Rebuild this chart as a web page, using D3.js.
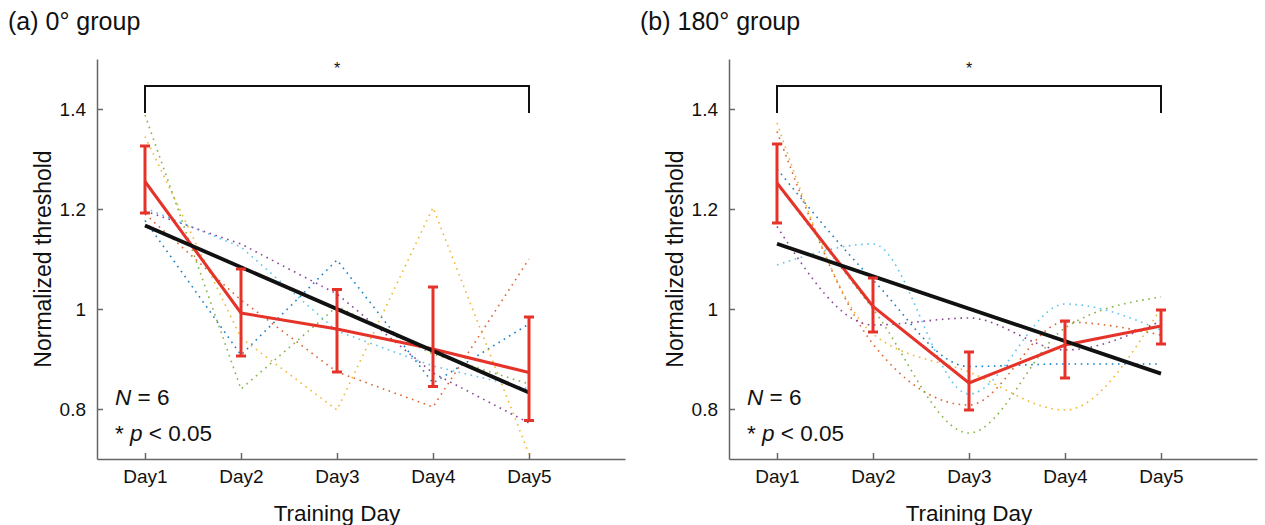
<!DOCTYPE html>
<meta charset="utf-8">
<style>
html, body {
  margin: 0;
  background: #fff;
}

.chart text {
  font-family: "Liberation Sans", Arial, Helvetica, sans-serif;
  fill: #111;
}

.chart .axis path,
.chart .axis line {
  stroke: #666;
  stroke-width: 1.5;
}

.chart .axis text {
  font-size: 19px;
}

.chart .subject {
  fill: none;
  stroke-width: 1.6;
  stroke-dasharray: 1.6 4.6;
  opacity: 0.9;
}

.chart .mean {
  fill: none;
  stroke: #e5332a;
  stroke-width: 3;
}

.chart .errbar {
  stroke: #e5332a;
  stroke-width: 3;
}

.chart .fit {
  stroke: #111;
  stroke-width: 3.8;
}

.chart .bracket {
  fill: none;
  stroke: #111;
  stroke-width: 2;
}
</style>
<body>
<svg class="chart" width="1265" height="525"></svg>

<script src="https://d3js.org/d3.v7.min.js"></script>
<script type="text/javascript">
"use strict";

// categories and ticks
var days = ["Day1", "Day2", "Day3", "Day4", "Day5"];
var yTicks = [0.8, 1, 1.2, 1.4];

// (a) 0° group, one dotted series per subject
var aBlue   = [1.177, 0.908, 1.098, 0.852, 0.970];
var aRed    = [1.190, 1.018, 0.874, 0.804, 1.100];
var aYellow = [1.345, 0.942, 0.798, 1.203, 0.710];
var aPurple = [1.196, 1.130, 1.030, 0.872, 0.772];
var aGreen  = [1.388, 0.840, 1.005, 0.910, 0.850];
var aCyan   = [1.202, 1.124, 0.956, 0.886, 0.840];
var aMean   = [1.255, 0.992, 0.960, 0.920, 0.873];
var aUpper  = [1.326, 1.080, 1.039, 1.044, 0.984];
var aLower  = [1.192, 0.906, 0.874, 0.845, 0.777];

// (b) 180° group
var bBlue   = [1.280, 1.058, 0.885, 0.890, 0.890];
var bRed    = [1.355, 0.930, 0.808, 0.974, 0.948];
var bYellow = [1.372, 0.950, 0.874, 0.798, 1.002];
var bPurple = [1.165, 0.968, 0.982, 0.918, 0.976];
var bGreen  = [1.250, 1.000, 0.752, 0.962, 1.024];
var bCyan   = [1.088, 1.130, 0.830, 1.010, 0.958];
var bMean   = [1.252, 1.005, 0.852, 0.928, 0.966];
var bUpper  = [1.330, 1.062, 0.914, 0.976, 0.998];
var bLower  = [1.172, 0.954, 0.798, 0.862, 0.930];

var subjectColors = ["#0072BD", "#D95319", "#EDB120", "#7E2F8E", "#77AC30", "#4DBEEE"];

var svg = d3.select(".chart");

var panels = [
  {
    title: "(a) 0\u00b0 group",
    left: 97,
    subjects: [aBlue, aRed, aYellow, aPurple, aGreen, aCyan],
    mean: aMean, upper: aUpper, lower: aLower,
    curve: d3.curveLinear
  },
  {
    title: "(b) 180\u00b0 group",
    left: 729,
    subjects: [bBlue, bRed, bYellow, bPurple, bGreen, bCyan],
    mean: bMean, upper: bUpper, lower: bLower,
    curve: d3.curveMonotoneX
  }
];

var plotWidth = 528,
  plotTop = 59,
  plotBottom = 459;

panels.forEach(drawPanel);

function linearFit(values) {
  var n = values.length,
    xs = d3.range(1, n + 1),
    mx = d3.mean(xs),
    my = d3.mean(values),
    sxy = d3.sum(xs, function(x, i) { return (x - mx) * (values[i] - my); }),
    sxx = d3.sum(xs, function(x) { return (x - mx) * (x - mx); }),
    slope = sxy / sxx;
  return function(x) { return my + slope * (x - mx); };
}

function drawPanel(p) {
  var x = d3.scaleLinear().domain([0.5, 6]).range([p.left, p.left + plotWidth]);
  var y = d3.scaleLinear().domain([0.7, 1.5]).range([plotBottom, plotTop]);
  var g = svg.append("g");

  g.append("text")
    .attr("x", p.left - 89)
    .attr("y", 30)
    .style("font-size", "25px")
    .text(p.title);

  var xAxis = d3.axisBottom(x)
    .tickValues(d3.range(1, days.length + 1))
    .tickFormat(function(d) { return days[d - 1]; })
    .tickSizeInner(-6)
    .tickSizeOuter(0)
    .tickPadding(11);

  var yAxis = d3.axisLeft(y)
    .tickValues(yTicks)
    .tickFormat(d3.format("~g"))
    .tickSizeInner(-6)
    .tickSizeOuter(0)
    .tickPadding(11);

  g.append("g")
    .attr("class", "axis")
    .attr("transform", "translate(0," + plotBottom + ")")
    .call(xAxis);

  g.append("g")
    .attr("class", "axis")
    .attr("transform", "translate(" + p.left + ",0)")
    .call(yAxis);

  g.selectAll(".axis text").style("fill", "#111");

  g.append("text")
    .attr("x", x(3))
    .attr("y", 521)
    .attr("text-anchor", "middle")
    .style("font-size", "22.5px")
    .text("Training Day");

  g.append("text")
    .attr("transform", "translate(" + (p.left - 46) + "," + y(1.1) + ") rotate(-90)")
    .attr("text-anchor", "middle")
    .style("font-size", "23px")
    .text("Normalized threshold");

  // individual subjects
  var line = d3.line()
    .x(function(d, i) { return x(i + 1); })
    .y(function(d) { return y(d); })
    .curve(p.curve);

  g.selectAll(".subject")
    .data(p.subjects)
    .enter().append("path")
    .attr("class", "subject")
    .attr("stroke", function(d, i) { return subjectColors[i]; })
    .attr("d", line);

  // group mean
  g.append("path")
    .attr("class", "mean")
    .attr("d", d3.line()
      .x(function(d, i) { return x(i + 1); })
      .y(function(d) { return y(d); })(p.mean));

  // linear fit of the means
  var fit = linearFit(p.mean);
  g.append("line")
    .attr("class", "fit")
    .attr("x1", x(1))
    .attr("x2", x(days.length))
    .attr("y1", y(fit(1)))
    .attr("y2", y(fit(days.length)));

  // error bars
  var bars = g.selectAll(".errbar-g")
    .data(p.mean)
    .enter().append("g");

  bars.append("line")
    .attr("class", "errbar")
    .attr("x1", function(d, i) { return x(i + 1); })
    .attr("x2", function(d, i) { return x(i + 1); })
    .attr("y1", function(d, i) { return y(p.upper[i]); })
    .attr("y2", function(d, i) { return y(p.lower[i]); });

  ["upper", "lower"].forEach(function(k) {
    bars.append("line")
      .attr("class", "errbar")
      .attr("x1", function(d, i) { return x(i + 1) - 5; })
      .attr("x2", function(d, i) { return x(i + 1) + 5; })
      .attr("y1", function(d, i) { return y(p[k][i]); })
      .attr("y2", function(d, i) { return y(p[k][i]); });
  });

  // significance bracket Day1 vs Day5
  var by = 86;
  g.append("path")
    .attr("class", "bracket")
    .attr("d", "M" + x(1) + "," + (by + 27) + "V" + by + "H" + x(5) + "V" + (by + 27));

  g.append("text")
    .attr("x", x(3))
    .attr("y", by - 12)
    .attr("text-anchor", "middle")
    .style("font-size", "16px")
    .text("*");

  // annotations
  var n = g.append("text")
    .attr("x", p.left + 18)
    .attr("y", 405)
    .style("font-size", "22.5px");
  n.append("tspan").style("font-style", "italic").text("N");
  n.append("tspan").text(" = 6");

  var ps = g.append("text")
    .attr("x", p.left + 18)
    .attr("y", 441)
    .style("font-size", "22.5px");
  ps.append("tspan").text("* ");
  ps.append("tspan").style("font-style", "italic").text("p");
  ps.append("tspan").text(" < 0.05");
}
</script>
</body>
